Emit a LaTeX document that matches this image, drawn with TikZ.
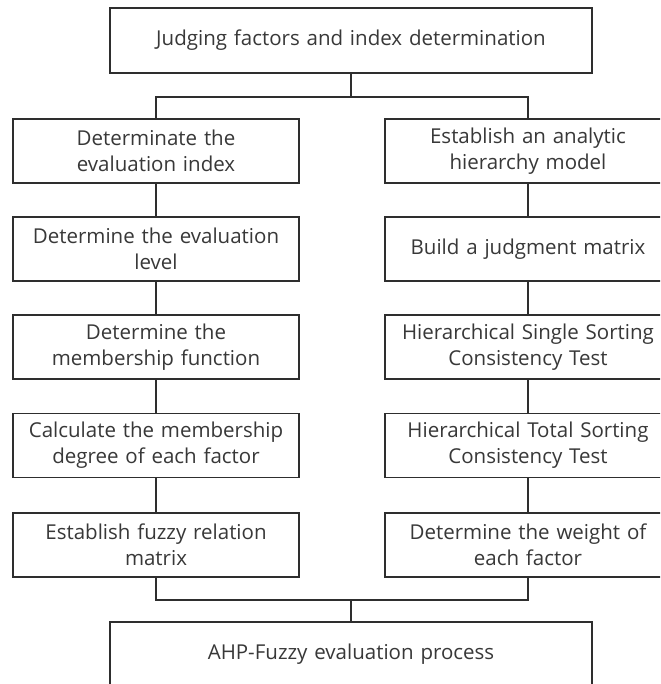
\documentclass[tikz,border=0pt]{standalone}
\usepackage{fontspec}
\setmainfont{Open Sans}
\usetikzlibrary{calc}

\begin{document}
\begin{tikzpicture}[x=1pt, y=1pt]
    % Define sizes (one unit is one pixel of the reference)
    \def\boxWidth{286}
    \def\boxHeight{64}

    \definecolor{borderColour}{HTML}{2E2E2E}
    \definecolor{textColour}{HTML}{383838}

    \tikzset{
        stepbox/.style={draw=borderColour, line width=1.7pt, fill=white,
            minimum width=\boxWidth pt, minimum height=\boxHeight pt,
            text width=\boxWidth pt - 10pt, align=center, inner sep=0pt,
            text=textColour, font=\fontsize{20.5}{26}\selectfont},
        mainbox/.style={stepbox, minimum width=482pt, text width=470pt, minimum height=65pt},
        link/.style={draw=borderColour, line width=1.7pt}
    }

    % Fix the page and cut what lies outside it
    \useasboundingbox (0,0) rectangle (660,-684);
    \clip (0,0) rectangle (660,-684);

    % Define the split and join points
    \coordinate (split) at (351,-97);
    \coordinate (join) at (351,-600);

    % Draw the first and last step
    \node[mainbox] (start) at (351,-40.5) {Judging factors and index determination};
    \node[mainbox] (finish) at (351,-654.5) {AHP-Fuzzy evaluation process};

    % Draw the fuzzy evaluation column
    \node[stepbox] (L1) at (156,-151) {Determinate the\\evaluation index};
    \node[stepbox] (L2) at (156,-249) {Determine the evaluation\\level};
    \node[stepbox] (L3) at (156,-347) {Determine the\\membership function};
    \node[stepbox] (L4) at (156,-445.5) {Calculate the membership\\degree of each factor};
    \node[stepbox] (L5) at (156,-545) {Establish fuzzy relation\\matrix};

    % Draw the analytic hierarchy column
    \node[stepbox] (R1) at (528,-151) {Establish an analytic\\hierarchy model};
    \node[stepbox] (R2) at (528,-249) {Build a judgment matrix};
    \node[stepbox] (R3) at (528,-347) {Hierarchical Single Sorting\\Consistency Test};
    \node[stepbox] (R4) at (528,-445.5) {Hierarchical Total Sorting\\Consistency Test};
    \node[stepbox] (R5) at (528,-545) {Determine the weight of\\each factor};

    % Connect the steps of each column
    \foreach \col in {L,R}
        \foreach \a/\b in {1/2,2/3,3/4,4/5}
            \draw[link] (\col\a.south) -- (\col\b.north);

    % Split after the first step and join before the last one
    \draw[link] (start.south) -- (split);
    \draw[link] (L1.north) |- (split) -| (R1.north);
    \draw[link] (L5.south) |- (join) -| (R5.south);
    \draw[link] (join) -- (finish.north);
\end{tikzpicture}
\end{document}
